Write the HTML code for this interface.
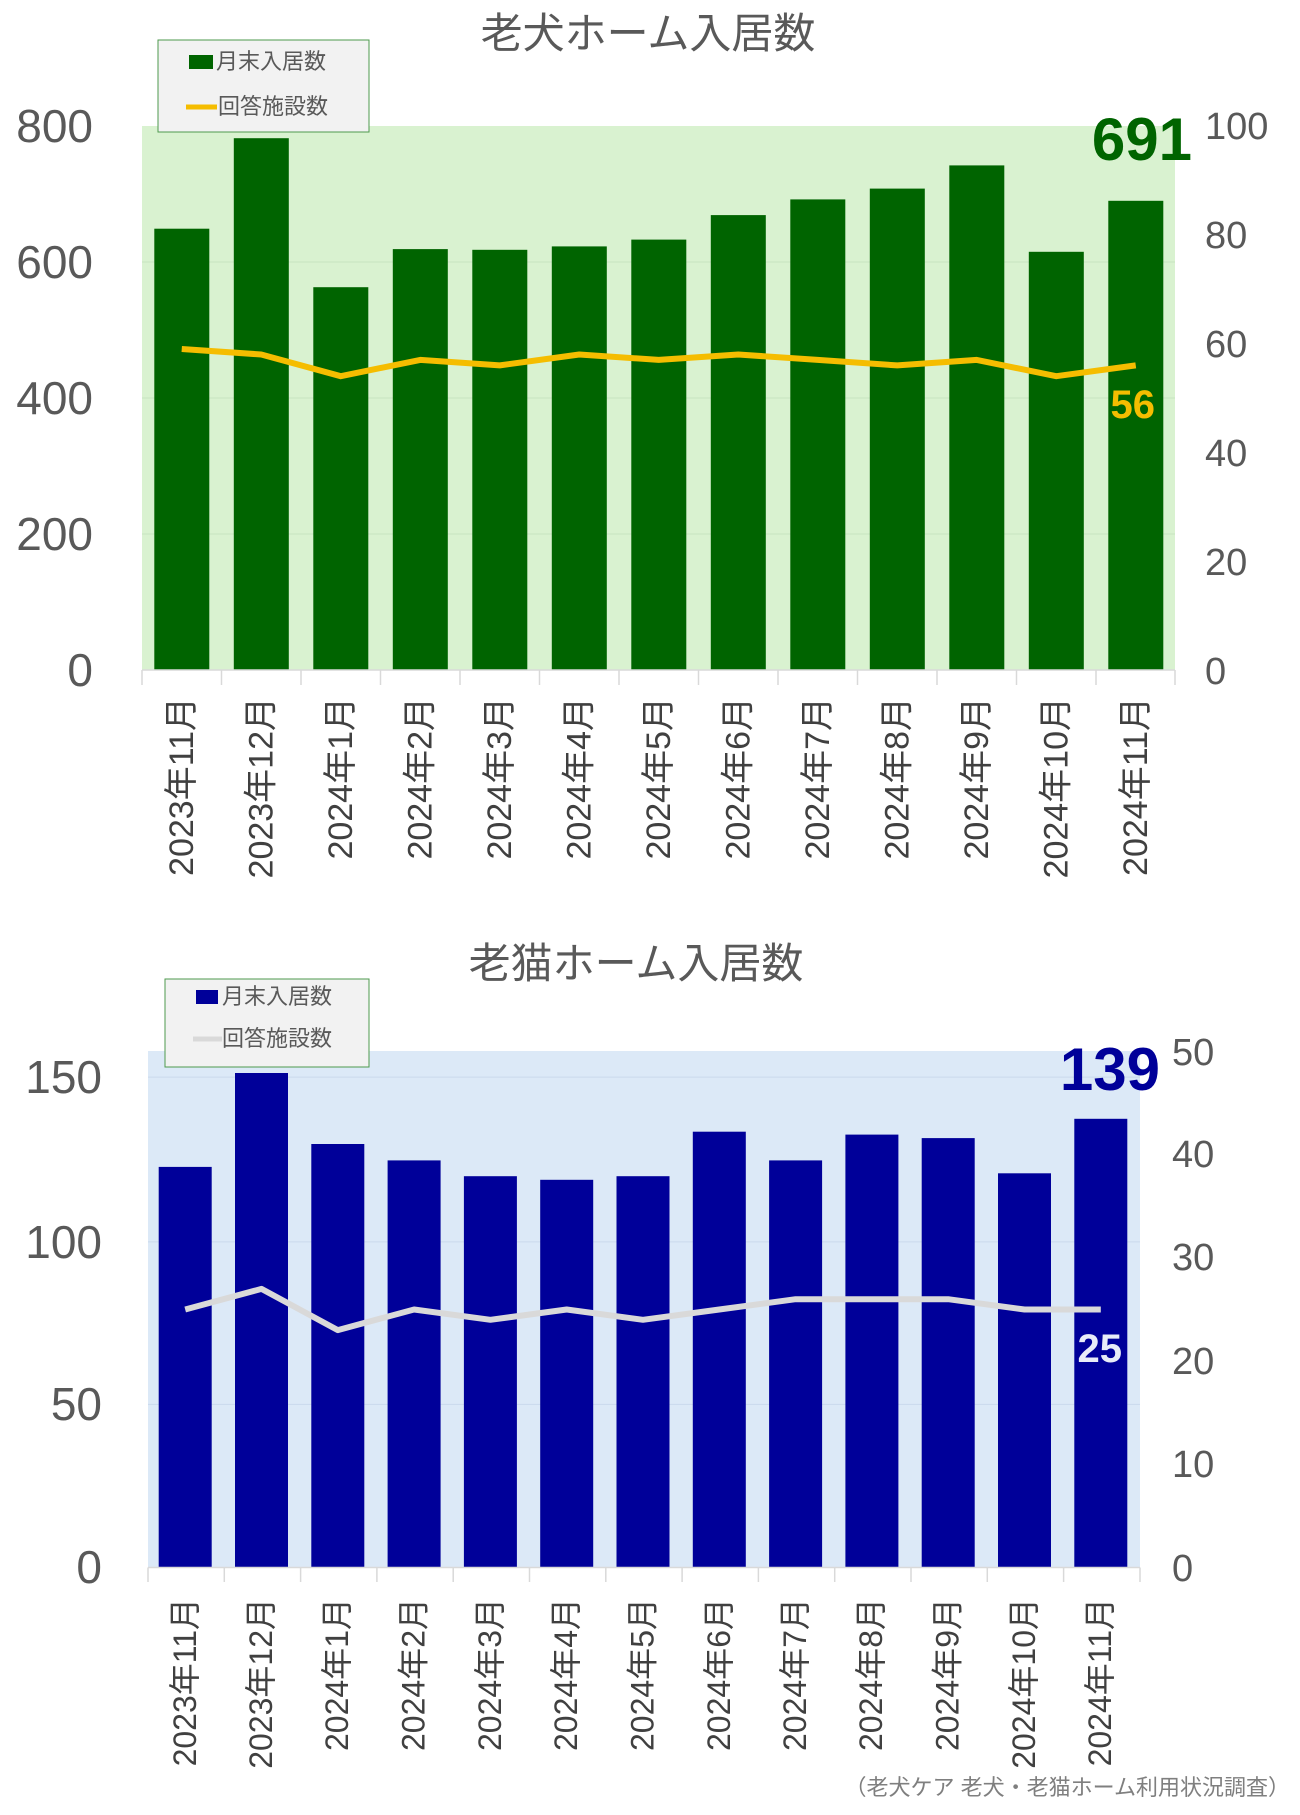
<!DOCTYPE html>
<html><head><meta charset="utf-8"><style>
html,body{margin:0;padding:0;background:#fff;}
svg{display:block;font-family:"Liberation Sans","Noto Sans CJK JP",sans-serif;}
.n{font-family:"Liberation Sans Narrow","Liberation Sans",sans-serif;}
</style></head><body>
<svg width="1300" height="1815" viewBox="0 0 1300 1815" xmlns="http://www.w3.org/2000/svg">
<!-- Chart 1 -->
<text x="648" y="48" font-size="42" fill="#595959" text-anchor="middle">老犬ホーム入居数</text>
<rect x="142" y="126" width="1033" height="544" fill="#d9f2d0"/>
<g stroke="#c8e4c0" stroke-width="1">
<line x1="142" y1="534" x2="1175" y2="534"/><line x1="142" y1="398" x2="1175" y2="398"/><line x1="142" y1="262" x2="1175" y2="262"/>
</g>
<g fill="#006400">
<rect x="154.3" y="228.7" width="55" height="441.3"/>
<rect x="233.8" y="138.2" width="55" height="531.8"/>
<rect x="313.3" y="287.2" width="55" height="382.8"/>
<rect x="392.8" y="249.1" width="55" height="420.9"/>
<rect x="472.3" y="249.8" width="55" height="420.2"/>
<rect x="551.8" y="246.4" width="55" height="423.6"/>
<rect x="631.3" y="239.6" width="55" height="430.4"/>
<rect x="710.8" y="215.1" width="55" height="454.9"/>
<rect x="790.3" y="199.4" width="55" height="470.6"/>
<rect x="869.8" y="188.6" width="55" height="481.4"/>
<rect x="949.3" y="165.4" width="55" height="504.6"/>
<rect x="1028.8" y="251.8" width="55" height="418.2"/>
<rect x="1108.3" y="200.8" width="55" height="469.2"/>
</g>
<polyline fill="none" stroke="#f5bd00" stroke-width="6" stroke-linejoin="round" points="181.75,349 261.25,354.5 340.75,376.2 420.25,359.9 499.75,365.4 579.25,354.5 658.75,359.9 738.25,354.5 817.75,359.9 897.25,365.4 976.75,359.9 1056.25,376.2 1135.75,365.4"/>
<line x1="142" y1="670" x2="1175" y2="670" stroke="#d9d9d9" stroke-width="1.5"/>
<g stroke="#d9d9d9" stroke-width="1.5">
<line x1="142" y1="670" x2="142" y2="685"/><line x1="221.5" y1="670" x2="221.5" y2="685"/><line x1="301" y1="670" x2="301" y2="685"/><line x1="380.5" y1="670" x2="380.5" y2="685"/><line x1="460" y1="670" x2="460" y2="685"/><line x1="539.5" y1="670" x2="539.5" y2="685"/><line x1="619" y1="670" x2="619" y2="685"/><line x1="698.5" y1="670" x2="698.5" y2="685"/><line x1="778" y1="670" x2="778" y2="685"/><line x1="857.5" y1="670" x2="857.5" y2="685"/><line x1="937" y1="670" x2="937" y2="685"/><line x1="1016.5" y1="670" x2="1016.5" y2="685"/><line x1="1096" y1="670" x2="1096" y2="685"/><line x1="1175" y1="670" x2="1175" y2="685"/>
</g>
<g class="n" font-size="46" fill="#595959" text-anchor="end">
<text x="93" y="686">0</text><text x="93" y="550">200</text><text x="93" y="414">400</text><text x="93" y="278">600</text><text x="93" y="142">800</text>
</g>
<g class="n" font-size="38" fill="#595959">
<text x="1205" y="684">0</text><text x="1205" y="575">20</text><text x="1205" y="466">40</text><text x="1205" y="357">60</text><text x="1205" y="248">80</text><text x="1205" y="139">100</text>
</g>
<text x="1192" y="160" font-size="60" font-weight="bold" fill="#006400" text-anchor="end">691</text>
<text x="1155" y="418" font-size="40" font-weight="bold" fill="#f5bd00" text-anchor="end">56</text>
<g font-size="34" fill="#404040" text-anchor="end">
<text transform="translate(193,697) rotate(-90)">2023年11月</text>
<text transform="translate(272.5,697) rotate(-90)">2023年12月</text>
<text transform="translate(352,697) rotate(-90)">2024年1月</text>
<text transform="translate(431.5,697) rotate(-90)">2024年2月</text>
<text transform="translate(511,697) rotate(-90)">2024年3月</text>
<text transform="translate(590.5,697) rotate(-90)">2024年4月</text>
<text transform="translate(670,697) rotate(-90)">2024年5月</text>
<text transform="translate(749.5,697) rotate(-90)">2024年6月</text>
<text transform="translate(829,697) rotate(-90)">2024年7月</text>
<text transform="translate(908.5,697) rotate(-90)">2024年8月</text>
<text transform="translate(988,697) rotate(-90)">2024年9月</text>
<text transform="translate(1067.5,697) rotate(-90)">2024年10月</text>
<text transform="translate(1147,697) rotate(-90)">2024年11月</text>
</g>
<rect x="158" y="40" width="211" height="92" fill="#f2f2f2" stroke="#4e9a4e" stroke-width="1"/>
<rect x="189" y="55" width="24" height="14" fill="#006400"/>
<text x="216" y="69" font-size="22" fill="#595959">月末入居数</text>
<line x1="186" y1="107" x2="217" y2="107" stroke="#f5bd00" stroke-width="5"/>
<text x="218" y="114" font-size="22" fill="#595959">回答施設数</text>

<!-- Chart 2 -->
<text x="636" y="978" font-size="42" fill="#595959" text-anchor="middle">老猫ホーム入居数</text>
<rect x="148" y="1051" width="992" height="516.5" fill="#dce9f7"/>
<g stroke="#cad9ec" stroke-width="1">
<line x1="148" y1="1404.4" x2="1140" y2="1404.4"/><line x1="148" y1="1241.9" x2="1140" y2="1241.9"/><line x1="148" y1="1077.1" x2="1140" y2="1077.1"/>
</g>
<g fill="#000099">
<rect x="158.7" y="1166.9" width="53" height="400.6"/>
<rect x="235.0" y="1073.0" width="53" height="494.5"/>
<rect x="311.3" y="1144.0" width="53" height="423.5"/>
<rect x="387.6" y="1160.4" width="53" height="407.1"/>
<rect x="463.9" y="1176.2" width="53" height="391.3"/>
<rect x="540.2" y="1179.8" width="53" height="387.7"/>
<rect x="616.5" y="1176.2" width="53" height="391.3"/>
<rect x="692.8" y="1131.7" width="53" height="435.8"/>
<rect x="769.1" y="1160.4" width="53" height="407.1"/>
<rect x="845.4" y="1134.6" width="53" height="432.9"/>
<rect x="921.7" y="1138.1" width="53" height="429.4"/>
<rect x="998.0" y="1173.3" width="53" height="394.2"/>
<rect x="1074.3" y="1118.8" width="53" height="448.7"/>
</g>
<polyline fill="none" stroke="#d9d9d9" stroke-width="6" stroke-linejoin="round" points="185.2,1309.5 261.5,1288.9 337.8,1330.1 414.1,1309.5 490.4,1319.8 566.7,1309.5 643,1319.8 719.3,1309.5 795.6,1299.2 871.9,1299.2 948.2,1299.2 1024.5,1309.5 1100.8,1309.5"/>
<line x1="148" y1="1567.5" x2="1140" y2="1567.5" stroke="#d9d9d9" stroke-width="1.5"/>
<g stroke="#d9d9d9" stroke-width="1.5">
<line x1="148" y1="1567.5" x2="148" y2="1582"/><line x1="224.3" y1="1567.5" x2="224.3" y2="1582"/><line x1="300.6" y1="1567.5" x2="300.6" y2="1582"/><line x1="376.9" y1="1567.5" x2="376.9" y2="1582"/><line x1="453.2" y1="1567.5" x2="453.2" y2="1582"/><line x1="529.5" y1="1567.5" x2="529.5" y2="1582"/><line x1="605.8" y1="1567.5" x2="605.8" y2="1582"/><line x1="682.1" y1="1567.5" x2="682.1" y2="1582"/><line x1="758.4" y1="1567.5" x2="758.4" y2="1582"/><line x1="834.7" y1="1567.5" x2="834.7" y2="1582"/><line x1="911" y1="1567.5" x2="911" y2="1582"/><line x1="987.3" y1="1567.5" x2="987.3" y2="1582"/><line x1="1063.6" y1="1567.5" x2="1063.6" y2="1582"/><line x1="1140" y1="1567.5" x2="1140" y2="1582"/>
</g>
<g class="n" font-size="46" fill="#595959" text-anchor="end">
<text x="102" y="1583">0</text><text x="102" y="1420">50</text><text x="102" y="1258">100</text><text x="102" y="1093">150</text>
</g>
<g class="n" font-size="38" fill="#595959">
<text x="1172" y="1581">0</text><text x="1172" y="1477">10</text><text x="1172" y="1374">20</text><text x="1172" y="1270">30</text><text x="1172" y="1167">40</text><text x="1172" y="1065">50</text>
</g>
<text x="1160" y="1090" font-size="60" font-weight="bold" fill="#000099" text-anchor="end">139</text>
<text x="1122" y="1362" font-size="40" font-weight="bold" fill="#e8ecf8" text-anchor="end">25</text>
<g font-size="32" fill="#404040" text-anchor="end">
<text transform="translate(196,1598) rotate(-90)">2023年11月</text>
<text transform="translate(272,1598) rotate(-90)">2023年12月</text>
<text transform="translate(348,1598) rotate(-90)">2024年1月</text>
<text transform="translate(424.5,1598) rotate(-90)">2024年2月</text>
<text transform="translate(501,1598) rotate(-90)">2024年3月</text>
<text transform="translate(577,1598) rotate(-90)">2024年4月</text>
<text transform="translate(653.5,1598) rotate(-90)">2024年5月</text>
<text transform="translate(730,1598) rotate(-90)">2024年6月</text>
<text transform="translate(806,1598) rotate(-90)">2024年7月</text>
<text transform="translate(882,1598) rotate(-90)">2024年8月</text>
<text transform="translate(958.5,1598) rotate(-90)">2024年9月</text>
<text transform="translate(1035,1598) rotate(-90)">2024年10月</text>
<text transform="translate(1111,1598) rotate(-90)">2024年11月</text>
</g>
<rect x="165" y="979" width="204" height="88" fill="#f2f2f2" stroke="#4e9a4e" stroke-width="1"/>
<rect x="196" y="990" width="22" height="14" fill="#000099"/>
<text x="222" y="1004" font-size="22" fill="#595959">月末入居数</text>
<line x1="193" y1="1039" x2="222" y2="1039" stroke="#d9d9d9" stroke-width="5"/>
<text x="222" y="1046" font-size="22" fill="#595959">回答施設数</text>

<text x="1290" y="1795" font-size="22" fill="#7f7f7f" text-anchor="end">（老犬ケア 老犬・老猫ホーム利用状況調査）</text>
</svg>
</body></html>
